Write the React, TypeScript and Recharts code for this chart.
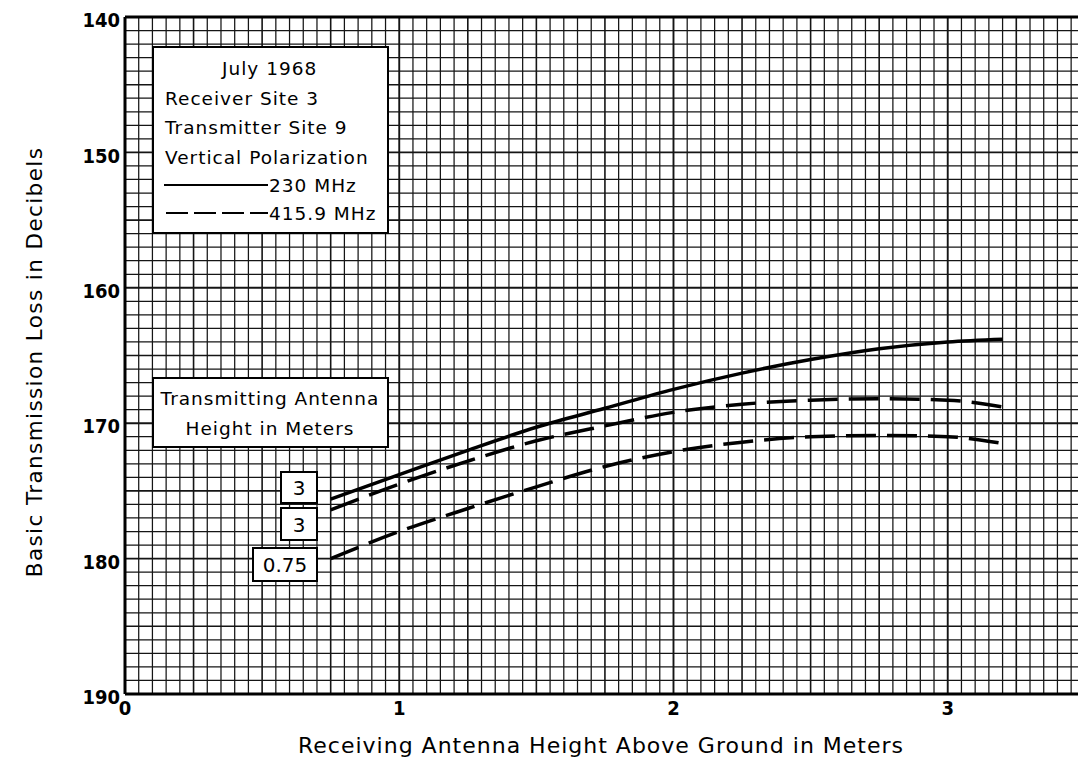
import React from "react";
import { LineChart, Line, XAxis, YAxis, ReferenceLine } from "recharts";

// Receiving antenna height (m)
const heights = [0.75, 1.0, 1.25, 1.5, 1.75, 2.0, 2.25, 2.5, 2.75, 3.0, 3.2];
// Basic transmission loss (dB)
const loss230Tx3 = [175.6, 173.8, 172.0, 170.3, 168.9, 167.5, 166.3, 165.3, 164.5, 164.0, 163.8];
const loss416Tx3 = [176.4, 174.5, 172.8, 171.3, 170.2, 169.2, 168.6, 168.3, 168.2, 168.3, 168.8];
const loss416Tx075 = [180.0, 178.0, 176.3, 174.7, 173.2, 172.1, 171.4, 171.0, 170.9, 171.0, 171.5];

const xTicks = [0, 1, 2, 3];
const yTicks = [140, 150, 160, 170, 180, 190];
const legendLines = ["July 1968", "Receiver Site 3", "Transmitter Site 9", "Vertical Polarization"];
const series230 = "230 MHz";
const series416 = "415.9 MHz";
const boxTitle = ["Transmitting Antenna", "Height in Meters"];
const txLabels = ["3", "3", "0.75"];

const data = heights.map((h, i) => ({
  x: h,
  a: loss230Tx3[i],
  b: loss416Tx3[i],
  c: loss416Tx075[i],
}));

const gridX: number[] = [];
for (let i = 1; i <= 69; i++) gridX.push(+(i * 0.05).toFixed(2));
const gridY: number[] = [];
for (let v = 141; v <= 189; v++) gridY.push(v);

const W = 1078;
const H = 759;
const font = "'DejaVu Sans', sans-serif";
const tickFont = "'DejaVu Sans Condensed', 'DejaVu Sans', sans-serif";

export default function App() {
  return (
    <div style={{ position: "absolute", left: 0, top: 0, width: W, height: H, overflow: "hidden", background: "#fff" }}>
      <LineChart width={W} height={H} data={data} margin={{ top: 17, right: 0, bottom: 35, left: 0 }}>
        <XAxis
          dataKey="x"
          type="number"
          domain={[0, 3.475]}
          ticks={xTicks}
          allowDataOverflow
          axisLine={{ stroke: "#000", strokeWidth: 3 }}
          tickLine={false}
          tickSize={0}
          tickMargin={7}
          height={30}
          tick={{ fill: "#000", fontSize: 20, fontWeight: "bold", fontFamily: tickFont, style: { fontStretch: "condensed" } }}
        />
        <YAxis
          type="number"
          reversed
          domain={[140, 190]}
          ticks={yTicks}
          allowDataOverflow
          width={125}
          axisLine={{ stroke: "#000", strokeWidth: 3 }}
          tickLine={false}
          tickSize={0}
          tickMargin={5}
          tick={{ fill: "#000", fontSize: 20, fontWeight: "bold", fontFamily: tickFont, dy: 3, style: { fontStretch: "condensed" } }}
        />
        {gridX.map((v, i) => {
          const idx = i + 1;
          const w = idx % 20 === 0 ? 1.9 : idx % 5 === 0 ? 1.6 : 1.25;
          return <ReferenceLine key={"gx" + v} x={v} stroke="#151515" strokeWidth={w} />;
        })}
        {gridY.map((v) => {
          const w = v % 10 === 0 ? 1.9 : v % 5 === 0 ? 1.6 : 1.25;
          return <ReferenceLine key={"gy" + v} y={v} stroke="#151515" strokeWidth={w} />;
        })}
        <ReferenceLine y={140} stroke="#000" strokeWidth={3} />
        <Line dataKey="a" type="monotone" stroke="#000" strokeWidth={3.5} dot={false} isAnimationActive={false} />
        <Line dataKey="b" type="monotone" stroke="#000" strokeWidth={3.5} strokeDasharray="30 11" dot={false} isAnimationActive={false} />
        <Line dataKey="c" type="monotone" stroke="#000" strokeWidth={3.5} strokeDasharray="30 11" dot={false} isAnimationActive={false} />
      </LineChart>
      <svg width={W} height={H} style={{ position: "absolute", left: 0, top: 0, pointerEvents: "none" }}>
        <text
          x={34}
          y={362}
          transform="rotate(-90 34 362)"
          textAnchor="middle"
          dominantBaseline="central"
          fontFamily={font}
          fontSize={21.5}
          letterSpacing={1.4}
          fill="#000"
        >
          Basic Transmission Loss in Decibels
        </text>
        <text x={601} y={745} textAnchor="middle" dominantBaseline="central" fontFamily={font} fontSize={22} letterSpacing={1} fill="#000">
          Receiving Antenna Height Above Ground in Meters
        </text>

        {/* info legend box */}
        <rect x={153} y={47} width={235} height={186} fill="#fff" stroke="#000" strokeWidth={2} />
        {legendLines.map((t, i) => (
          <text key={t} x={i === 0 ? 222 : 165} y={75 + i * 29.5} fontFamily={font} fontSize={18.5} letterSpacing={1} fill="#000">
            {t}
          </text>
        ))}
        <line x1={164} y1={185} x2={268} y2={185} stroke="#000" strokeWidth={2} />
        <text x={269} y={192} fontFamily={font} fontSize={18.5} letterSpacing={1} fill="#000">{series230}</text>
        <line x1={166} y1={213} x2={268} y2={213} stroke="#000" strokeWidth={2} strokeDasharray="22 6" />
        <text x={269} y={220} fontFamily={font} fontSize={18.5} letterSpacing={1} fill="#000">{series416}</text>

        {/* antenna height box */}
        <rect x={153} y={378} width={235} height={69} fill="#fff" stroke="#000" strokeWidth={2} />
        {boxTitle.map((t, i) => (
          <text key={t} x={270} y={405 + i * 30} textAnchor="middle" fontFamily={font} fontSize={18.5} letterSpacing={1} fill="#000">
            {t}
          </text>
        ))}

        {/* curve labels */}
        <rect x={281} y={472} width={36} height={31} fill="#fff" stroke="#000" strokeWidth={2} />
        <text x={299} y={495} textAnchor="middle" fontFamily={font} fontSize={20} fill="#000">{txLabels[0]}</text>
        <rect x={281} y={508} width={36} height={32} fill="#fff" stroke="#000" strokeWidth={2} />
        <text x={299} y={532} textAnchor="middle" fontFamily={font} fontSize={20} fill="#000">{txLabels[1]}</text>
        <rect x={253} y={548} width={64} height={33} fill="#fff" stroke="#000" strokeWidth={2} />
        <text x={285} y={572} textAnchor="middle" fontFamily={font} fontSize={20} fill="#000">{txLabels[2]}</text>
      </svg>
    </div>
  );
}
